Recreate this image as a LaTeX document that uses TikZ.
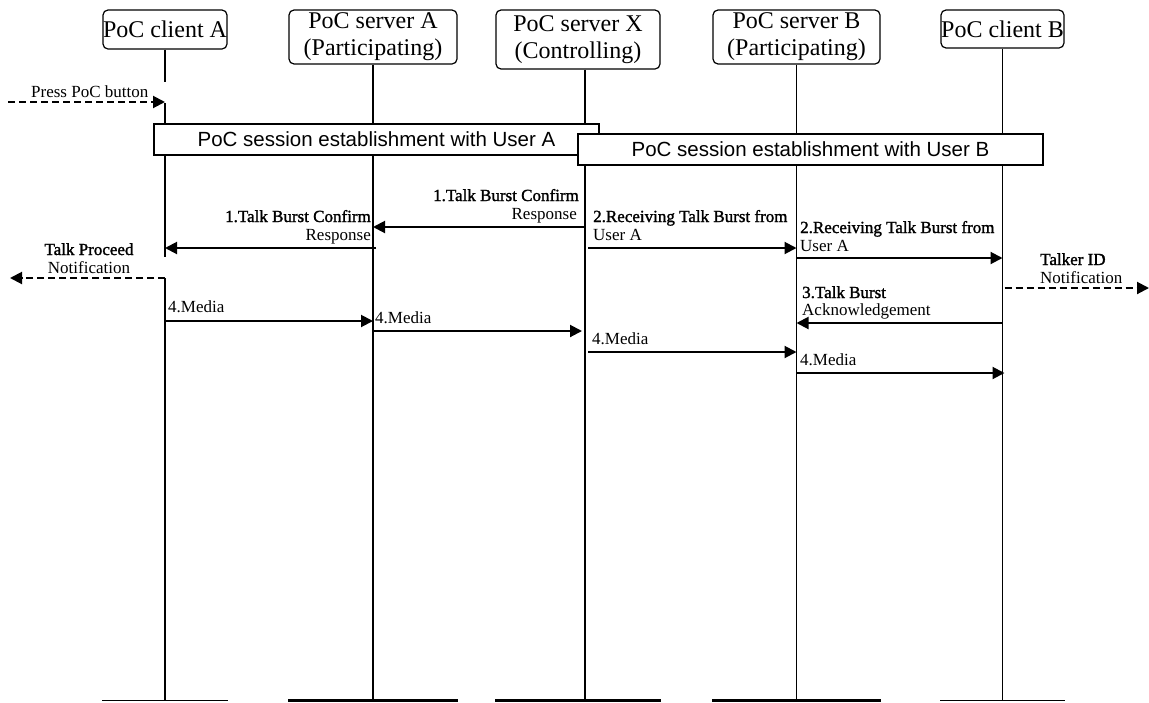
\documentclass[tikz,border=0pt]{standalone}
\usepackage{fontspec}
\setmainfont{Liberation Serif}
\setsansfont{Liberation Sans}
\newfontfamily\fbserif[FakeBold=1.5]{Liberation Serif}
\usetikzlibrary{arrows.meta}
\begin{document}
\begin{tikzpicture}[x=1pt,y=-1pt,
  head/.style={draw, line width=1.2pt, rounded corners=5pt, inner sep=0pt, align=center, font=\fontsize{24}{27}\selectfont},
  life/.style={line width=1.6pt},
  thinbar/.style={line width=1.6pt},
  thickbar/.style={line width=3pt},
  sess/.style={draw, line width=1.2pt, fill=white, inner sep=0pt, font=\sffamily\fontsize{20.5}{24}\selectfont},
  msg/.style={line width=2pt, -{Triangle[length=12pt,width=12pt]}},
  note/.style={msg, dash pattern=on 7pt off 4pt},
  lbl/.style={inner sep=0pt, font=\fontsize{17}{20}\selectfont},
  blbl/.style={inner sep=0pt, font=\fbserif\fontsize{17}{20}\selectfont}
]
\useasboundingbox (0,0) rectangle (1149,702);

% headers
\node[head, minimum width=124pt, minimum height=39pt] (cA) at (165,29.5) {PoC client A};
\node[head, minimum width=168pt, minimum height=54pt] (sA) at (373,37) {PoC server A\\(Participating)};
\node[head, minimum width=164pt, minimum height=59pt] (sX) at (578,39.5) {PoC server X\\(Controlling)};
\node[head, minimum width=167pt, minimum height=54pt] (sB) at (796.5,37) {PoC server B\\(Participating)};
\node[head, minimum width=123pt, minimum height=38pt] (cB) at (1002.5,29) {PoC client B};

% lifeline tops
\coordinate (LA) at (cA.south);
\coordinate (LSA) at (sA.south);
\coordinate (LX) at ([xshift=7pt]sX.south);
\coordinate (LSB) at (sB.south);
\coordinate (LB) at (cB.south);
\coordinate (bot) at (0,700.5);

% y levels
\coordinate (gA1) at (0,82);
\coordinate (gA2) at (0,103);
\coordinate (gA3) at (0,257);
\coordinate (gA4) at (0,278);
\coordinate (yPress) at (0,102);
\coordinate (y1) at (0,227);
\coordinate (y2) at (0,248);
\coordinate (y3) at (0,258);
\coordinate (yTI) at (0,288);
\coordinate (yM1) at (0,321);
\coordinate (yAck) at (0,323);
\coordinate (yM2) at (0,331);
\coordinate (yM3) at (0,352);
\coordinate (yM4) at (0,373);

% lifelines
\draw[life] (LA) -- (LA |- gA1);
\draw[life] (LA |- gA2) -- (LA |- gA3);
\draw[life] (LA |- gA4) -- (LA |- bot);
\draw[life] (LSA) -- (LSA |- bot);
\draw[life] (LX) -- (LX |- bot);
\draw[life] (LSB) -- (LSB |- bot);
\draw[life] (LB) -- (LB |- bot);

% bottom bars
\draw[thinbar] (cA.west |- bot) -- (cA.east |- bot);
\draw[thickbar] (sA.west |- bot) -- (sA.east |- bot);
\draw[thickbar] (sX.west |- bot) -- (sX.east |- bot);
\draw[thickbar] (sB.west |- bot) -- (sB.east |- bot);
\draw[thinbar] (cB.west |- bot) -- (cB.east |- bot);

% session boxes
\node[sess, minimum width=445pt, minimum height=31pt] (sessA) at (376.5,139.5) {PoC session establishment with User A};
\node[sess, minimum width=465pt, minimum height=31pt] (sessB) at (810.5,149.5) {PoC session establishment with User B};

% messages
\coordinate (pressStart) at (8,102);
\draw[note] (pressStart) -- (LA |- yPress);
\node[lbl, anchor=base west] (lPress) at (31,97) {Press PoC button};

\draw[msg] (LX |- y1) -- (LSA |- y1);
\node[blbl, anchor=base east] (l1a) at (579,201) {1.Talk Burst Confirm};
\node[lbl, anchor=base east] (l1b) at (577,219) {Response};

\draw[msg] ([xshift=3pt]LSA |- y2) -- (LA |- y2);
\node[blbl, anchor=base east] (l2a) at (371,222) {1.Talk Burst Confirm};
\node[lbl, anchor=base east] (l2b) at (371,240) {Response};

\coordinate (tpEnd) at (10,278);
\draw[note] (LA |- gA4) -- (tpEnd);
\node[blbl, anchor=base] (l3a) at (89,255) {Talk Proceed};
\node[lbl, anchor=base] (l3b) at (89,273) {Notification};

\draw[msg] ([xshift=3pt]LX |- y2) -- (LSB |- y2);
\node[blbl, anchor=base west] (l4a) at (593,222) {2.Receiving Talk Burst from};
\node[lbl, anchor=base west] (l4b) at (593,240) {User A};

\draw[msg] (LSB |- y3) -- (LB |- y3);
\node[blbl, anchor=base west] (l5a) at (800,233) {2.Receiving Talk Burst from};
\node[lbl, anchor=base west] (l5b) at (800,251) {User A};

\coordinate (tiEnd) at (1149,288);
\draw[note] ([xshift=2pt]LB |- yTI) -- (tiEnd);
\node[blbl, anchor=base west] (l6a) at (1040,265) {Talker ID};
\node[lbl, anchor=base west] (l6b) at (1040,283) {Notification};

\draw[msg] (LB |- yAck) -- (LSB |- yAck);
\node[blbl, anchor=base west] (l7a) at (802,298) {3.Talk Burst};
\node[lbl, anchor=base west] (l7b) at (802,315) {Acknowledgement};

\draw[msg] (LA |- yM1) -- (LSA |- yM1);
\node[lbl, anchor=base west] (lm1) at (168,312) {4.Media};

\draw[msg] (LSA |- yM2) -- ([xshift=-3pt]LX |- yM2);
\node[lbl, anchor=base west] (lm2) at (375,323) {4.Media};

\draw[msg] ([xshift=3pt]LX |- yM3) -- (LSB |- yM3);
\node[lbl, anchor=base west] (lm3) at (592,344) {4.Media};

\draw[msg] (LSB |- yM4) -- ([xshift=2pt]LB |- yM4);
\node[lbl, anchor=base west] (lm4) at (800,365) {4.Media};
\end{tikzpicture}
\end{document}
